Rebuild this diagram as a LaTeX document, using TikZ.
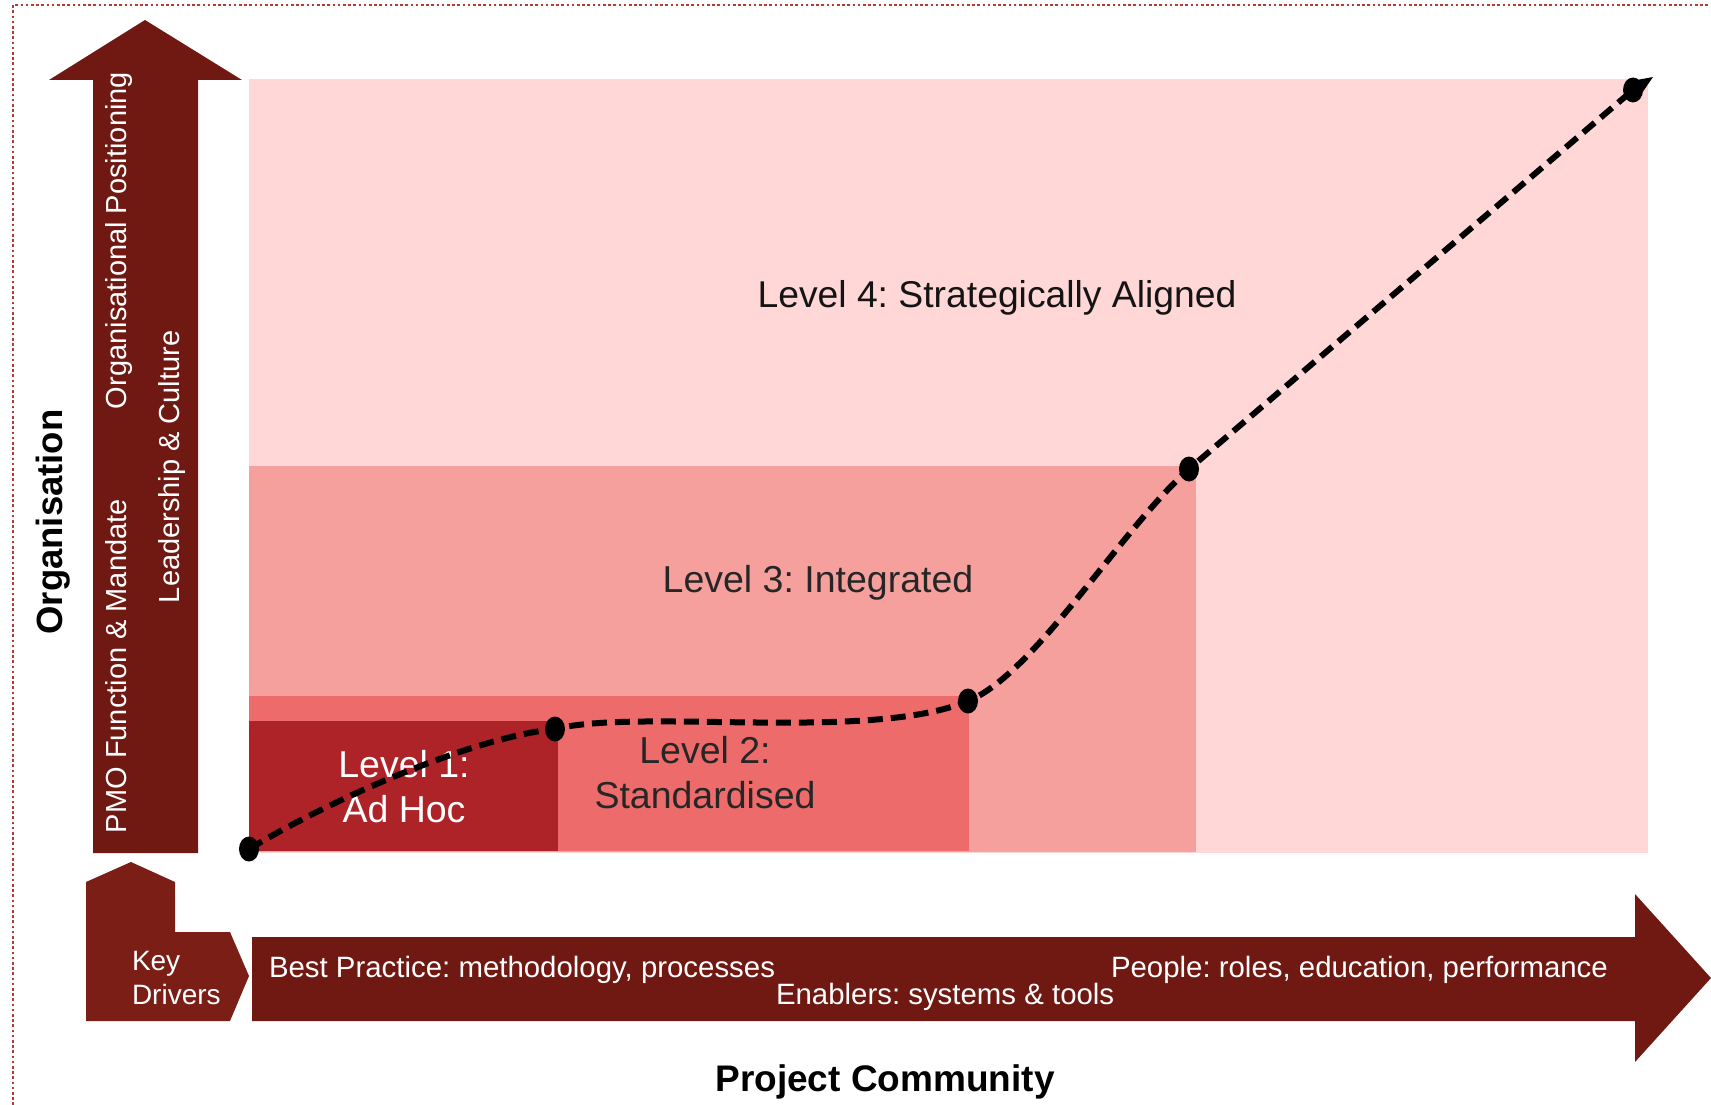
\documentclass[tikz,border=0pt]{standalone}
\usepackage{fontspec}
\setmainfont{Liberation Sans}
\usetikzlibrary{shapes.geometric,arrows.meta}

\definecolor{arrowdark}{HTML}{701812}
\definecolor{keydark}{HTML}{7A1E16}
\definecolor{lvlfour}{HTML}{FFD7D7}
\definecolor{lvlthree}{HTML}{F6A09E}
\definecolor{lvltwo}{HTML}{EE6B6B}
\definecolor{lvlone}{HTML}{AE2328}
\definecolor{framered}{HTML}{B43A3A}
\definecolor{labelgray}{HTML}{262626}

\begin{document}
\frenchspacing
\begin{tikzpicture}[x=1pt,y=-1pt,
  every node/.style={inner sep=0pt, outer sep=0pt},
  bigtext/.style={font=\fontsize{37.5}{44}\selectfont, anchor=base},
  drivertext/.style={font=\fontsize{29}{34}\selectfont, text=white, anchor=base west},
  bartext/.style={drivertext, font=\fontsize{29.4}{34}\selectfont},
  axistitle/.style={font=\fontsize{37}{44}\selectfont\bfseries, anchor=base},
  milestone/.style={ellipse, fill=black, minimum width=20pt, minimum height=25pt},
  trend/.style={line width=6pt, dash pattern=on 15pt off 8pt, black}
]
\useasboundingbox (0,0) rectangle (1711,1105);

% frame (top and left edges)
\draw[framered, line width=2.6pt, dash pattern=on 2.6pt off 2.6pt] (13,1105) -- (13,5) -- (1711,5);

% maturity levels
\fill[lvlfour]  (249,79)  rectangle (1648,853);
\fill[lvlthree] (249,466) rectangle (1196,852);
\fill[lvltwo]   (249,696) rectangle (969,851);
\fill[lvlone]   (249,721) rectangle (558,851);

% vertical axis arrow
\fill[arrowdark] (93,853) -- (93,80) -- (49,80) -- (145,20) -- (242,80) -- (198,80) -- (198,853) -- cycle;
% horizontal axis arrow
\fill[arrowdark] (252,937) -- (1635,937) -- (1635,894) -- (1711,978) -- (1635,1062) -- (1635,1021) -- (252,1021) -- cycle;
% key drivers block
\fill[keydark] (86,1021) -- (86,882) -- (131,862) -- (175,882) -- (175,932) -- (230,932) -- (249,976) -- (230,1021) -- cycle;

% level labels
\node[bigtext, font=\fontsize{37.3}{45}\selectfont, text=black!92] (l4) at (997,307) {Level 4: Strategically Aligned};
\node[bigtext, text=labelgray] (l3) at (818,592) {Level 3: Integrated};
\node[bigtext, text=labelgray] (l2a) at (705,763) {Level 2:};
\node[bigtext, text=labelgray] (l2b) at (705,808) {Standardised};
\node[bigtext, text=white] (l1a) at (404,777) {Level 1:};
\node[bigtext, text=white] (l1b) at (404,822) {Ad Hoc};

% vertical drivers
\node[drivertext, rotate=90] (pmo) at (126,833) {PMO Function \& Mandate};
\node[drivertext, rotate=90] (orgpos) at (126,409) {Organisational Positioning};
\node[drivertext, rotate=90] (lead) at (179,603) {Leadership \& Culture};

% horizontal drivers
\node[drivertext, font=\fontsize{28}{33}\selectfont] (key) at (132,970) {Key};
\node[drivertext, font=\fontsize{28}{33}\selectfont] (drv) at (132,1004) {Drivers};
\node[bartext] (best) at (269,977) {Best Practice: methodology, processes};
\node[bartext] (enab) at (776,1004) {Enablers: systems \& tools};
\node[bartext] (people) at (1111,977) {People: roles, education, performance};

% axis titles
\node[axistitle, font=\fontsize{36.5}{42}\selectfont\bfseries, rotate=90] (org) at (62,522) {Organisation};
\node[axistitle] (proj) at (885,1091) {Project Community};

% maturity path
\node[milestone] (p1) at (249,849) {};
\node[milestone] (p2) at (555,729) {};
\node[milestone] (p3) at (968,701) {};
\node[milestone] (p4) at (1189,469) {};
\node[milestone] (p5) at (1633,90) {};
\coordinate (tip) at (1653,77);

\draw[trend] (p1.center) .. controls (330,800) and (470,738) .. (p2.center)
             .. controls (640,708) and (870,742) .. (p3.center)
             .. controls (1035,674) and (1120,530) .. (p4.center)
             -- (p5.center);
\draw[line width=6pt, -{Stealth[length=22pt,width=18pt]}] (p5.center) -- (tip);
\end{tikzpicture}
\end{document}
